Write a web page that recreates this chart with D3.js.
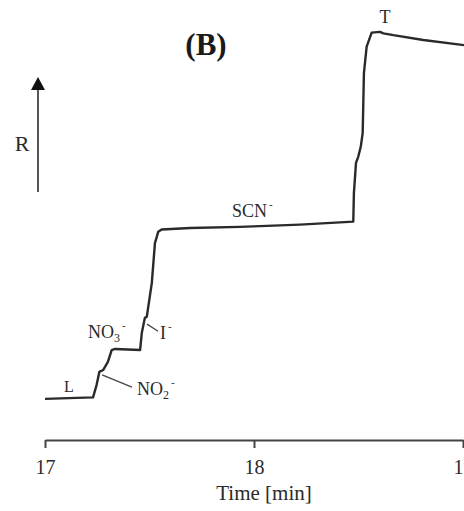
<!DOCTYPE html>
<html><head><meta charset="utf-8">
<script src="https://cdn.jsdelivr.net/npm/d3@7"></script>
<style>
html,body{margin:0;padding:0;background:#fff;}
svg{display:block;font-family:"Liberation Serif","DejaVu Serif",serif;}
</style></head>
<body><svg id="c" width="464" height="511"></svg>
<script>
// Time [min]
const times = [17.000,17.230,17.247,17.260,17.278,17.301,17.319,17.335,17.455,17.463,17.478,17.487,17.511,17.526,17.542,17.558,17.694,17.933,18.220,18.475,18.478,18.488,18.499,18.511,18.520,18.523,18.526,18.539,18.563,18.603,18.619,18.667,18.810,19.005];
// Response R (arbitrary units)
const response = [0.3,0.7,4.1,7.6,8.1,10.3,13.5,13.8,13.5,18.1,22.2,22.5,31.6,42.4,45.5,46.1,46.5,46.8,47.4,48.2,55.9,64.1,65.8,68.5,72.2,80.3,88.4,95.5,99.3,99.5,99.1,98.6,97.3,95.9];
const tickValues = [17,18,19];
// annotation labels: text, sub, sup, time, R
const labelText = ["L","NO","I","NO","SCN","T"];
const labelSub  = ["","3","","2","",""];
const labelSup  = ["","-","-","-","-",""];
const labelT    = [17.091,17.206,17.550,17.440,17.895,18.627];
const labelR    = [2.2,16.8,16.5,1.4,49.5,101.9];
// leader lines (time, R) pairs
const leaderT = [[17.488,17.541],[17.273,17.416]];
const leaderR = [[20.5,18.6],[6.8,3.5]];

const svg = d3.select("#c");
const x = d3.scaleLinear().domain([17,19]).range([45,463]);
const y = d3.scaleLinear().domain([0,100]).range([400,30]);
const ink = "#2a2a2a";

// axis
const ax = svg.append("g").attr("transform","translate(0,440)")
  .call(d3.axisBottom(x).tickValues(tickValues).tickFormat(d3.format("d")).tickSize(8).tickSizeOuter(0).tickPadding(12));
ax.select(".domain").attr("stroke","#444").attr("stroke-width",2);
ax.selectAll(".tick line").attr("stroke","#444").attr("stroke-width",2);
ax.selectAll(".tick text").attr("fill",ink).style("font-size","20px").style("font-family","Liberation Serif");

svg.append("text").attr("x",264).attr("y",500).attr("text-anchor","middle")
  .attr("fill",ink).style("font-size","21px").text("Time [min]");

// trace
const pts = times.map((t,i)=>[t,response[i]]);
svg.append("path").datum(pts)
  .attr("fill","none").attr("stroke",ink).attr("stroke-width",2.4).attr("stroke-linejoin","round")
  .attr("d", d3.line().x(d=>x(d[0])).y(d=>y(d[1])));

// leaders
leaderT.forEach((lt,i)=>{
  svg.append("line").attr("x1",x(lt[0])).attr("y1",y(leaderR[i][0]))
    .attr("x2",x(lt[1])).attr("y2",y(leaderR[i][1]))
    .attr("stroke","#444").attr("stroke-width",1.3);
});

// labels
labelText.forEach((s,i)=>{
  const t = svg.append("text").attr("x",x(labelT[i])).attr("y",y(labelR[i]))
    .attr("fill",ink).style("font-size", i===0?"16px":"18px")
    .attr("text-anchor", i===5?"middle":"start");
  t.append("tspan").text(s);
  if(labelSub[i]) t.append("tspan").attr("dy",4).style("font-size","12px").text(labelSub[i]);
  if(labelSup[i]) t.append("tspan").attr("dy", labelSub[i]? -13 : -9).attr("dx",2).style("font-size","11px").text(labelSup[i]);
});

// title
svg.append("text").attr("x",206).attr("y",55).attr("text-anchor","middle")
  .attr("fill","#1a1a1a").style("font-size","31px").style("font-weight","bold").text("(B)");

// R arrow
svg.append("line").attr("x1",38).attr("y1",192).attr("x2",38).attr("y2",88)
  .attr("stroke","#555").attr("stroke-width",2);
svg.append("path").attr("d","M38,77 L31,90 L45,90 Z").attr("fill","#111");
svg.append("text").attr("x",22).attr("y",151).attr("text-anchor","middle")
  .attr("fill",ink).style("font-size","22px").text("R");
</script></body></html>
